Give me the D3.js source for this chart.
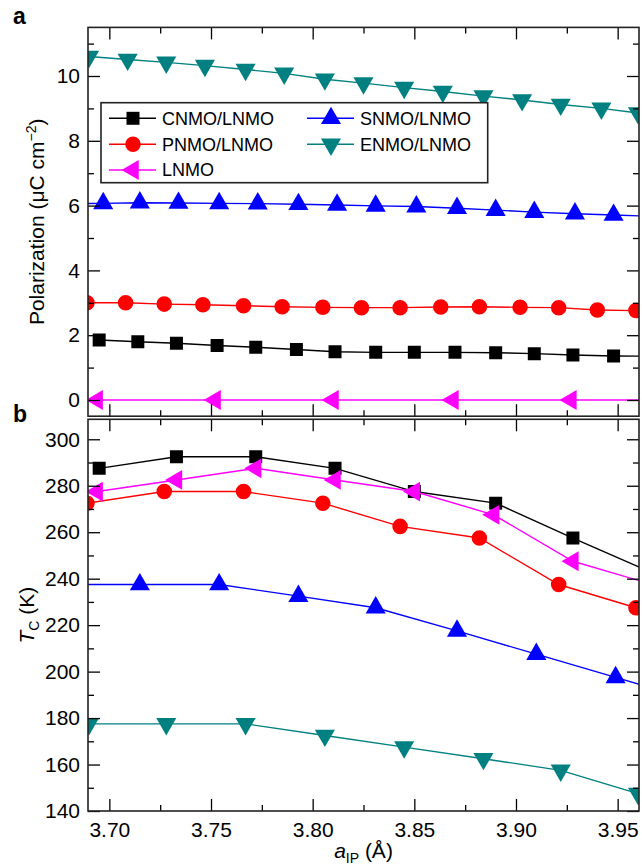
<!DOCTYPE html>
<html><head><meta charset="utf-8">
<script src="https://cdn.jsdelivr.net/npm/d3@7"></script>
<style>
body{margin:0;background:#fff}
svg{display:block}
text{font-family:"Liberation Sans",Arial,Helvetica,sans-serif;fill:#000}
</style>
</head><body><svg id="c" width="642" height="868"></svg>
<script>
// ---------- data ----------
const seriesNames = ["CNMO/LNMO","PNMO/LNMO","LNMO","SNMO/LNMO","ENMO/LNMO"];

// panel a: polarization (µC cm^-2) vs in-plane lattice parameter (Å)
const polCNMOx = [3.695,3.714,3.733,3.753,3.772,3.792,3.811,3.831,3.850,3.870,3.890,3.909,3.928,3.948,3.967];
const polCNMOy = [1.85,1.80,1.75,1.68,1.63,1.56,1.49,1.47,1.47,1.47,1.46,1.43,1.39,1.36,1.35];
const polPNMOx = [3.689,3.708,3.727,3.746,3.766,3.785,3.805,3.824,3.843,3.863,3.882,3.902,3.921,3.940,3.959];
const polPNMOy = [3.00,3.00,2.96,2.94,2.91,2.88,2.86,2.85,2.85,2.87,2.88,2.86,2.85,2.78,2.76];
const polLNMOx = [3.636,3.694,3.752,3.810,3.869,3.927,3.985];
const polLNMOy = [0,0,0,0,0,0,0];
const polSNMOx = [3.677,3.697,3.715,3.734,3.754,3.773,3.793,3.812,3.831,3.851,3.871,3.890,3.909,3.929,3.948,3.967];
const polSNMOy = [6.05,6.07,6.09,6.08,6.07,6.06,6.04,6.02,5.99,5.97,5.92,5.86,5.80,5.75,5.71,5.67];
const polENMOx = [3.690,3.709,3.728,3.747,3.767,3.786,3.806,3.825,3.845,3.864,3.884,3.903,3.922,3.942,3.960];
const polENMOy = [10.60,10.51,10.42,10.32,10.20,10.08,9.90,9.78,9.64,9.52,9.38,9.26,9.12,9.00,8.86];

// panel b: Curie temperature (K)
const tcCNMOx = [3.695,3.733,3.772,3.811,3.850,3.890,3.928,3.967];
const tcCNMOy = [287.5,292.5,292.5,287.5,277.5,272.5,257.5,242.5];
const tcPNMOx = [3.689,3.727,3.766,3.805,3.843,3.882,3.921,3.959];
const tcPNMOy = [272.5,277.5,277.5,272.5,262.5,257.5,237.5,227.5];
const tcLNMOx = [3.694,3.733,3.772,3.811,3.850,3.889,3.928,3.967];
const tcLNMOy = [277.5,282.5,287.5,282.5,277.5,267.5,247.5,237.5];
const tcSNMOx = [3.677,3.715,3.754,3.793,3.831,3.871,3.910,3.949,3.988];
const tcSNMOy = [237.5,237.5,237.5,232.5,227.5,217.5,207.5,197.5,187.5];
const tcENMOx = [3.690,3.728,3.767,3.806,3.845,3.884,3.922,3.960];
const tcENMOy = [177.5,177.5,177.5,172.5,167.5,162.5,157.5,147.5];

// ticks
const xMajor = [3.70,3.75,3.80,3.85,3.90,3.95];
const xMinor = [3.725,3.775,3.825,3.875,3.925];
const polMajor = [0,2,4,6,8,10];
const polMinor = [1,3,5,7,9,11];
const tcMajor = [140,160,180,200,220,240,260,280,300];
const tcMinor = [150,170,190,210,230,250,270,290];

// ---------- layout ----------
const svg = d3.select("#c");
const L = 88, R = 639;
const A = {top:27.4, bottom:416.2};
const B = {top:419.3, bottom:811};
const FONT = "'Liberation Sans',Arial,Helvetica,sans-serif";

const x = d3.scaleLinear().domain([3.6895,3.9605]).range([L,R]);
const yA = d3.scaleLinear().domain([-0.5,11.5]).range([A.bottom,A.top]);
const yB = d3.scaleLinear().domain([140,308.6]).range([B.bottom,B.top]);

const styles = {
  "CNMO/LNMO":{color:"#000000", sym:d3.symbolSquare, size:169, rot:0},
  "PNMO/LNMO":{color:"#ff0000", sym:d3.symbolCircle, size:190, rot:0},
  "LNMO":     {color:"#ff00ff", sym:d3.symbolTriangle, size:170, rot:-90},
  "SNMO/LNMO":{color:"#0000ff", sym:d3.symbolTriangle, size:175, rot:0},
  "ENMO/LNMO":{color:"#008080", sym:d3.symbolTriangle, size:175, rot:180}
};

const panelA = [
  {name:"CNMO/LNMO", xs:polCNMOx, ys:polCNMOy},
  {name:"PNMO/LNMO", xs:polPNMOx, ys:polPNMOy},
  {name:"SNMO/LNMO", xs:polSNMOx, ys:polSNMOy},
  {name:"ENMO/LNMO", xs:polENMOx, ys:polENMOy},
  {name:"LNMO",      xs:polLNMOx, ys:polLNMOy}
];
const panelB = [
  {name:"CNMO/LNMO", xs:tcCNMOx, ys:tcCNMOy},
  {name:"PNMO/LNMO", xs:tcPNMOx, ys:tcPNMOy},
  {name:"SNMO/LNMO", xs:tcSNMOx, ys:tcSNMOy},
  {name:"ENMO/LNMO", xs:tcENMOx, ys:tcENMOy},
  {name:"LNMO",      xs:tcLNMOx, ys:tcLNMOy}
];

const defs = svg.append("defs");
function clip(id, p){
  defs.append("clipPath").attr("id",id).append("rect")
    .attr("x",L).attr("y",p.top).attr("width",R-L).attr("height",p.bottom-p.top);
}
clip("clipA",A); clip("clipB",B);

function drawSeries(list, y, clipId){
  const g = svg.append("g").attr("clip-path",`url(#${clipId})`);
  list.forEach(s=>{
    const st = styles[s.name];
    const pts = s.xs.map((v,i)=>[v,s.ys[i]]);
    g.append("path").datum(pts)
      .attr("fill","none").attr("stroke",st.color).attr("stroke-width",1.4)
      .attr("d", d3.line().x(d=>x(d[0])).y(d=>y(d[1])));
    g.selectAll(null).data(pts).enter().append("path")
      .attr("d", d3.symbol().type(st.sym).size(st.size))
      .attr("transform", d=>`translate(${x(d[0])},${y(d[1])}) rotate(${st.rot})`)
      .attr("fill", st.color);
  });
}

function drawAxes(p, y, major, minor, showX){
  const mk = (gen, tr, vals, size, labels, pad) => {
    const g = svg.append("g").attr("transform",tr)
      .call(gen.tickValues(vals).tickSize(size).tickPadding(pad||8)
        .tickFormat(labels ? labels : ""));
    g.select(".domain").remove();
    g.selectAll("line").attr("stroke","#000").attr("stroke-width",1.3);
    g.selectAll("text").attr("font-size",21).attr("font-family",FONT).attr("fill","#000");
    return g;
  };
  // left
  mk(d3.axisLeft(y), `translate(${L},0)`, major, -12, d=>d3.format("d")(d), 8);
  mk(d3.axisLeft(y), `translate(${L},0)`, minor, -6, null);
  // right
  mk(d3.axisRight(y), `translate(${R},0)`, major, -12, null);
  mk(d3.axisRight(y), `translate(${R},0)`, minor, -6, null);
  // top
  mk(d3.axisTop(x), `translate(0,${p.top})`, xMajor, -12, null);
  mk(d3.axisTop(x), `translate(0,${p.top})`, xMinor, -6, null);
  // bottom
  mk(d3.axisBottom(x), `translate(0,${p.bottom})`, xMajor, -12, showX ? d3.format(".2f") : null, 11);
  mk(d3.axisBottom(x), `translate(0,${p.bottom})`, xMinor, -6, null);
  // frame
  svg.append("rect").attr("x",L).attr("y",p.top).attr("width",R-L).attr("height",p.bottom-p.top)
    .attr("fill","none").attr("stroke","#222").attr("stroke-width",1.6);
}

drawSeries(panelA, yA, "clipA");
drawSeries(panelB, yB, "clipB");
drawAxes(A, yA, polMajor, polMinor, false);
drawAxes(B, yB, tcMajor, tcMinor, true);

// ---------- legend ----------
const lg = svg.append("g");
lg.append("rect").attr("x",101).attr("y",102.7).attr("width",386.7).attr("height",80)
  .attr("fill","#fff").attr("stroke","#222").attr("stroke-width",1.6);
const legendItems = [
  {name:"CNMO/LNMO", col:0, row:0},
  {name:"SNMO/LNMO", col:1, row:0},
  {name:"PNMO/LNMO", col:0, row:1},
  {name:"ENMO/LNMO", col:1, row:1},
  {name:"LNMO",      col:0, row:2}
];
const colX = [109, 307], rowY = [118.3, 144.3, 170];
legendItems.forEach(it=>{
  const st = styles[it.name];
  const x0 = colX[it.col], yy = rowY[it.row];
  lg.append("line").attr("x1",x0).attr("x2",x0+47).attr("y1",yy).attr("y2",yy)
    .attr("stroke",st.color).attr("stroke-width",1.4);
  lg.append("path").attr("d", d3.symbol().type(st.sym).size(st.size))
    .attr("transform",`translate(${x0+24},${yy}) rotate(${st.rot})`).attr("fill",st.color);
  lg.append("text").attr("x",x0+53).attr("y",yy).attr("dy","0.35em")
    .attr("font-size",18).text(it.name);
});

// ---------- titles ----------
svg.append("text").attr("x",13).attr("y",24).attr("font-size",23).attr("font-weight","bold").text("a");
svg.append("text").attr("x",13).attr("y",422).attr("font-size",23).attr("font-weight","bold").text("b");

const yt = svg.append("text").attr("font-size",21).attr("text-anchor","middle")
  .attr("transform",`translate(44,${(A.top+A.bottom)/2}) rotate(-90)`);
yt.append("tspan").text("Polarization (\u03BCC cm");
yt.append("tspan").attr("font-size",14).attr("dy",-8).text("\u22122");
yt.append("tspan").attr("dy",8).text(")");

const yt2 = svg.append("text").attr("font-size",21).attr("text-anchor","middle")
  .attr("transform",`translate(34,${(B.top+B.bottom)/2}) rotate(-90)`);
yt2.append("tspan").attr("font-style","italic").text("T");
yt2.append("tspan").attr("font-size",14).attr("dy",5).text("C");
yt2.append("tspan").attr("dy",-5).text(" (K)");

const xt = svg.append("text").attr("font-size",21).attr("text-anchor","middle")
  .attr("x",(L+R)/2).attr("y",858);
xt.append("tspan").attr("font-style","italic").text("a");
xt.append("tspan").attr("font-size",14).attr("dy",5).text("IP");
xt.append("tspan").attr("dy",-5).text(" (\u00C5)");
</script></body></html>
